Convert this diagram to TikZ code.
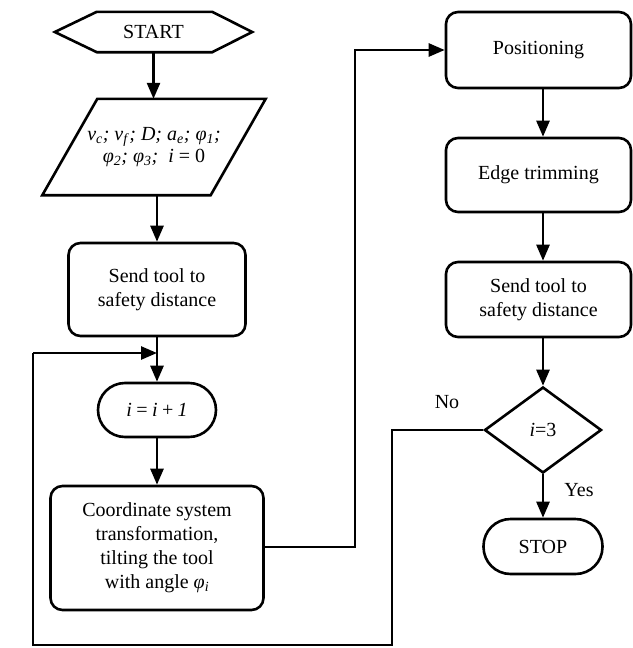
\documentclass[tikz,border=0pt]{standalone}
\usepackage{fontspec}
\setmainfont{Liberation Serif}
\usetikzlibrary{arrows.meta,shapes.geometric,calc}
\begin{document}
\begin{tikzpicture}[x=1pt,y=-1pt,
  every node/.style={font=\fontsize{20}{24}\selectfont, align=center, inner sep=0pt},
  line/.style={line width=2.6pt},
  arr/.style={line width=2.6pt,-{Triangle[length=16pt,width=13pt]}},
  box/.style={draw, line width=2.6pt, rounded corners=12pt},
  pill/.style={draw, line width=2.6pt, rounded corners=27pt},
  shape outline/.style={line width=2.6pt, line join=miter}]
\useasboundingbox (0,0) rectangle (632,648);

% nodes
\node[minimum width=197pt, minimum height=40pt] (start) at (153.5,32) {START};
\draw[shape outline] (start.west) -- ([xshift=42pt]start.north west) -- ([xshift=-40pt]start.north east)
  -- (start.east) -- ([xshift=-40pt]start.south east) -- ([xshift=42pt]start.south west) -- cycle;

\node[minimum width=223pt, minimum height=96pt] (inp) at (154,147)
  {\textit{v}\textsubscript{\textit{c}}\textit{; v}\textsubscript{\textit{f}}\textit{; D; a}\textsubscript{\textit{e}}\textit{; φ}\textsubscript{\textit{1}}\textit{;}\\[-2pt]
   \textit{φ}\textsubscript{\textit{2}}\textit{; φ}\textsubscript{\textit{3}}\textit{;\ \ i} = 0};
\draw[shape outline] ([xshift=55pt]inp.north west) -- (inp.north east) -- ([xshift=-55pt]inp.south east) -- (inp.south west) -- cycle;

\node[box, minimum width=177pt, minimum height=93pt] (send1) at (157,289.5) {Send tool to\\safety distance};
\coordinate (merge) at (157,353);
\node[pill, minimum width=118pt, minimum height=54pt] (inc) at (157,410) {\textit{i\,=\,i\,+\,1}};
\node[box, minimum width=213pt, minimum height=124pt] (coord) at (157,548)
  {Coordinate system\\transformation,\\tilting the tool\\with angle \textit{φ}\textsubscript{\textit{i}}};

\node[box, minimum width=185pt, minimum height=76pt] (pos) at (538.5,50) {Positioning};
\node[box, minimum width=185pt, minimum height=74pt] (edge) at (538.5,175) {Edge trimming};
\node[box, minimum width=185pt, minimum height=75pt] (send2) at (538.5,299.5) {Send tool to\\safety distance};
\node[draw, diamond, line width=2.6pt, minimum width=117pt, minimum height=86pt] (dec) at (543,430) {\textit{i}=3};
\node[pill, minimum width=119pt, minimum height=55pt] (stop) at (543,546.5) {STOP};

\node (no) at (447,402) {No};
\node (yes) at (579,490) {Yes};

\coordinate (c1) at (355,547);
\coordinate (c2) at (355,50);
\coordinate (l1) at (392,430);
\coordinate (l2) at (392,645);
\coordinate (l3) at (33,645);
\coordinate (l4) at (33,353);

% connectors
\draw[arr] (start.south) -- (inp.north -| start.south);
\draw[arr] (inp.south -| send1.north) -- (send1.north);
\draw[line] (send1.south) -- (merge);
\draw[arr] (merge) -- (inc.north);
\draw[arr] (inc.south) -- (coord.north);
\draw[arr] (coord.east |- c1) -- (c1) -- (c2) -- (pos.west);
\draw[arr] (pos.south -| dec.north) -- (edge.north -| dec.north);
\draw[arr] (edge.south -| dec.north) -- (send2.north -| dec.north);
\draw[arr] (send2.south -| dec.north) -- (dec.north);
\draw[arr] (dec.south) -- (stop.north);
\draw[line] (dec.west) -- (l1) -- (l2) -- (l3) -- (l4);
\draw[arr] (l4) -- (merge);
\end{tikzpicture}
\end{document}
